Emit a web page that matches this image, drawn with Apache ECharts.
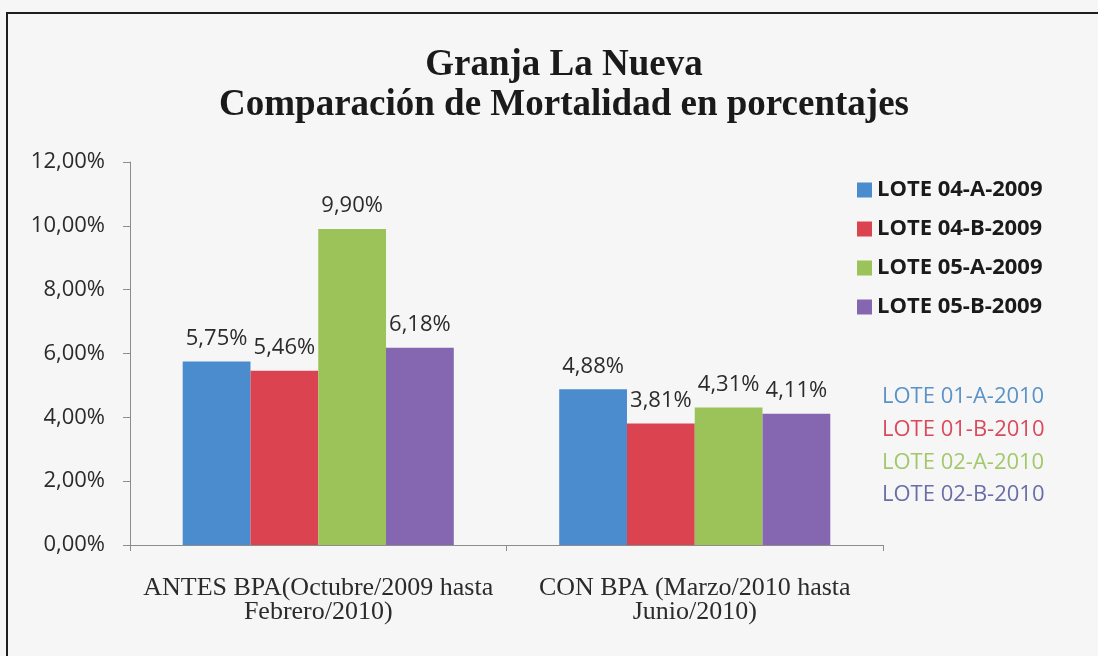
<!DOCTYPE html>
<html>
<head>
<meta charset="utf-8">
<script src="https://cdn.jsdelivr.net/npm/echarts@6/dist/echarts.min.js"></script>
<style>
    html, body { margin: 0; padding: 0; background: #f6f6f6; }
    #chart { width: 1098px; height: 656px; }
</style>
</head>
<body>
<div id="chart"></div>
<script>
var categories = [
    "ANTES BPA(Octubre/2009 hasta\nFebrero/2010)",
    "CON BPA (Marzo/2010 hasta\nJunio/2010)"
];
var seriesNames = ["LOTE 04-A-2009", "LOTE 04-B-2009", "LOTE 05-A-2009", "LOTE 05-B-2009"];
var lote04A = [5.75, 4.88];
var lote04B = [5.46, 3.81];
var lote05A = [9.90, 4.31];
var lote05B = [6.18, 4.11];
var lotes2010 = ["LOTE 01-A-2010", "LOTE 01-B-2010", "LOTE 02-A-2010", "LOTE 02-B-2010"];

var color = ["#4a8cce", "#dc4350", "#9cc35a", "#8467b0"];
var color2010 = ["#5a93c8", "#da4a5c", "#a3c86b", "#6a6ea8"];

var chartDom = document.getElementById("chart");
var myChart = echarts.init(chartDom);

function pct(v) {
    return v.toFixed(2).replace(".", ",") + "%";
}

var allData = [lote04A, lote04B, lote05A, lote05B];
var series = [];
allData.forEach(function (d, i) {
    series.push({
        name: seriesNames[i],
        type: "bar",
        data: d,
        barGap: "0%",
        barCategoryGap: "28%",
        itemStyle: { color: color[i] },
        label: {
            show: true,
            position: "top",
            distance: 12,
            color: "#2b2b2b",
            fontFamily: "Open Sans",
            fontSize: 22,
            formatter: function (p) { return pct(p.value); }
        }
    });
});

// marco exterior + textos de lotes 2010 a la derecha
var graphics = [{
    type: "rect",
    shape: { x: 7, y: 13, width: 1200, height: 700 },
    style: { fill: "none", stroke: "#1e1e1e", lineWidth: 2 },
    silent: true
}];
lotes2010.forEach(function (t, i) {
    graphics.push({
        type: "text",
        x: 882,
        y: 397 + i * 32.7,
        style: {
            text: t,
            fill: color2010[i],
            font: "22px 'Open Sans'",
            verticalAlign: "middle"
        }
    });
});

var option = {
    backgroundColor: "#f6f6f6",
    color: color,
    title: {
        text: "Granja La Nueva\nComparación de Mortalidad en porcentajes",
        left: 559,
        textAlign: "center",
        top: 40,
        textStyle: {
            fontFamily: "Liberation Serif",
            fontWeight: "bold",
            fontSize: 37,
            lineHeight: 40,
            color: "#1a1a1a"
        }
    },
    legend: {
        data: seriesNames,
        orient: "vertical",
        left: 852,
        top: 174,
        itemWidth: 15,
        itemHeight: 15,
        itemGap: 17,
        icon: "rect",
        textStyle: {
            fontFamily: "Open Sans",
            fontWeight: "bold",
            fontSize: 22,
            lineHeight: 22,
            color: "#1a1a1a"
        }
    },
    grid: {
        left: 130,
        right: 215,
        top: 162,
        bottom: 111
    },
    xAxis: {
        type: "category",
        data: categories,
        axisLine: { lineStyle: { color: "#8c8c8c" } },
        axisTick: { show: true, length: 6, lineStyle: { color: "#8c8c8c" } },
        axisLabel: {
            interval: 0,
            margin: 31,
            fontFamily: "Liberation Serif",
            fontSize: 26,
            lineHeight: 24,
            color: "#2b2b2b"
        }
    },
    yAxis: {
        type: "value",
        min: 0,
        max: 12,
        interval: 2,
        splitLine: { show: false },
        axisLine: { show: true, lineStyle: { color: "#8c8c8c" } },
        axisTick: { show: true, length: 7, lineStyle: { color: "#8c8c8c" } },
        axisLabel: {
            margin: 25,
            fontFamily: "Open Sans",
            fontSize: 22,
            color: "#2b2b2b",
            formatter: function (v) { return pct(v); }
        }
    },
    graphic: graphics,
    series: series
};
option && myChart.setOption(option);
</script>
</body>
</html>
